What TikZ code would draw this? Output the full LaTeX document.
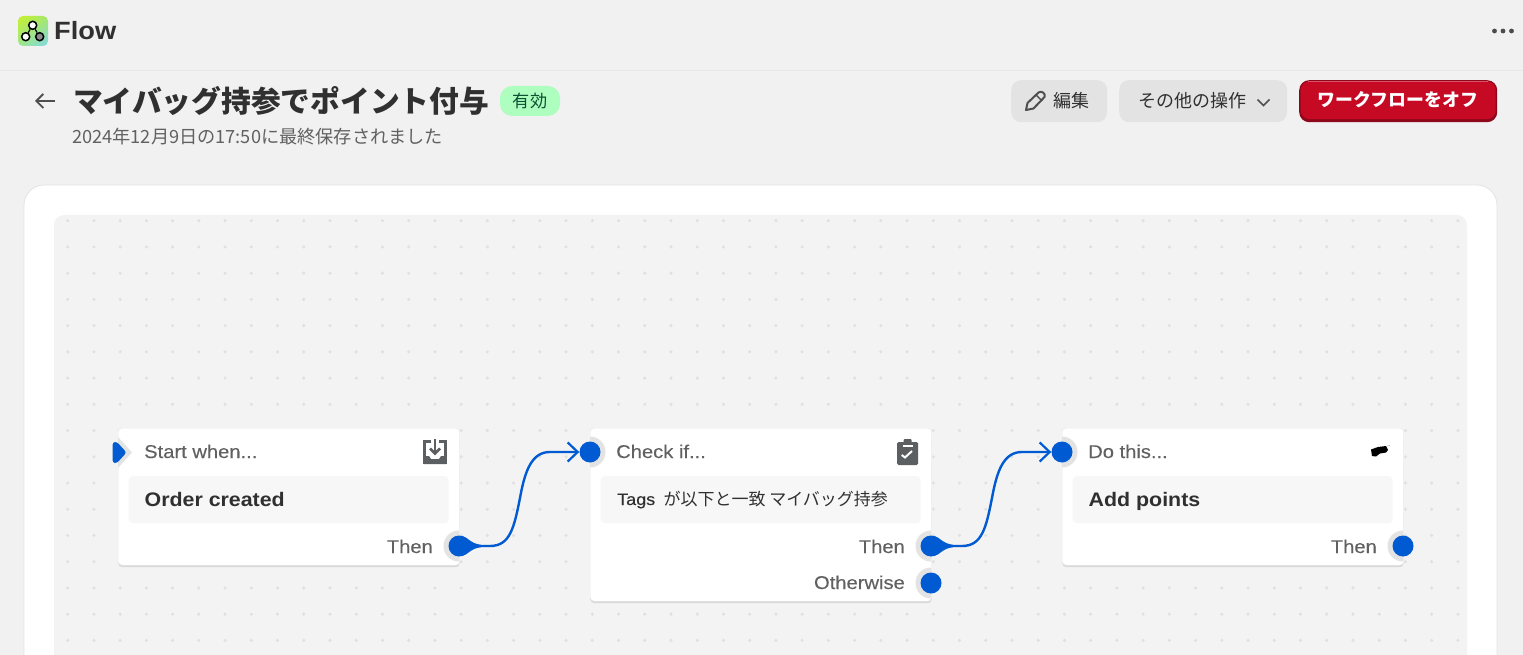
\documentclass[tikz,border=0pt]{standalone}
\usepackage{fontspec}
\setmainfont{Liberation Sans}[FakeStretch=1.09,UprightFeatures={FakeBold=0.2}]
\newfontfamily\jpfont{Noto Sans CJK JP}
\usetikzlibrary{arrows.meta,shadows,shadings}
\newcommand{\fsz}[1]{\fontsize{#1}{#1}\selectfont}
\definecolor{pagegrey}{HTML}{F1F1F1}
\definecolor{panelgrey}{HTML}{F3F3F3}
\definecolor{dotgrey}{HTML}{E0E0E0}
\definecolor{halogrey}{HTML}{E3E3E3}
\definecolor{boxgrey}{HTML}{F7F7F7}
\definecolor{btngrey}{HTML}{E3E3E3}
\definecolor{portblue}{HTML}{005BD3}
\definecolor{inkdark}{HTML}{303030}
\definecolor{inkmid}{HTML}{616161}
\definecolor{icongrey}{HTML}{5C5F62}
\definecolor{offred}{HTML}{C70A24}
\definecolor{badgefill}{HTML}{AEFEBF}
\definecolor{badgeink}{HTML}{0C5132}
\definecolor{logoa}{HTML}{C8F02A}
\definecolor{logob}{HTML}{A4E86A}
\definecolor{logoc}{HTML}{9CE690}
\definecolor{logod}{HTML}{7FD8E8}
\begin{document}
\begin{tikzpicture}[x=1pt,y=-1pt,
  card node/.style={draw=black!8,fill=white,rounded corners=4pt,anchor=north west,inner sep=0pt,minimum width=341.5pt,
    drop shadow={shadow xshift=0pt,shadow yshift=-2pt,opacity=.22}},
  inner box/.style={fill=boxgrey,rounded corners=4pt,anchor=north west,inner sep=0pt,minimum width=320pt,minimum height=47pt},
  port node/.style={circle,fill=portblue,inner sep=0pt,minimum size=21pt},
  head text/.style={anchor=base west,inner sep=0pt,text=inkmid,font=\fsz{18.5}},
  main text/.style={anchor=base west,inner sep=0pt,text=inkdark,font=\fsz{19.6}\bfseries},
  port text/.style={anchor=base east,inner sep=0pt,text=inkmid,font=\fsz{18.5}},
  button node/.style={fill=btngrey,rounded corners=10pt,anchor=north west,inner sep=0pt,minimum height=42pt},
  jp text/.style={inner sep=0pt,text=inkdark,font=\jpfont\fsz{#1}},
  wire/.style={draw=portblue,line width=2.4pt,-{Straight Barb[length=10pt,width=19pt,line width=2.2pt]}},
  logo dot/.style={circle,draw=black,line width=1.5pt,inner sep=0pt,minimum size=8pt}]
  \clip (0,0) rectangle (1523,655);
  \fill[pagegrey] (0,0) rectangle (1523,655);
  \draw[black!9] (0,70.5) -- (1523,70.5);

  % top bar
  \shade[rounded corners=5pt,upper left=logoa,upper right=logob,lower left=logoc,lower right=logod]
    (18,16) rectangle (48,46);
  \node[logo dot,fill=white] (logotop) at (32.7,25.3) {};
  \node[logo dot,fill=white] (logoleft) at (25.7,36.7) {};
  \node[logo dot,fill=black!45] (logoright) at (39.7,36.7) {};
  \path[black,line width=1.2pt]
   (logotop) edge (logoleft)
   (logotop) edge (logoright);
  \node[anchor=base west,inner sep=0pt,text=inkdark,font=\fsz{25}\bfseries] (flow) at (54,40) {Flow};
  \foreach \x in {1494.5,1503,1511.5}
    \fill[black!70] (\x,31) circle (2.4pt);

  % title row
  \draw[inkdark!85,line width=1.8pt,-{Straight Barb[length=7pt,width=14pt,line width=1.8pt]}] (55,101) -- (35,101);
  \node[jp text=30,anchor=base west,font=\jpfont\fsz{29.75}\bfseries] (title) at (73,113) {マイバッグ持参でポイント付与};
  \node[fill=badgefill,rounded corners=12pt,minimum width=60pt,minimum height=30pt,inner sep=0pt] (badge) at (530,101) {};
  \node[jp text=17.2,text=badgeink] at (badge) {有効};
  \node[jp text=18.2,text=inkmid,anchor=base west] (saved) at (72,143.5) {2024年12月9日の17:50に最終保存されました};

  \node[button node,minimum width=96pt] (editbtn) at (1011,80) {};
  \draw[inkdark!85,line width=2pt,line join=round] (1026,110) -- (1027.5,103) -- (1038.5,92.5)
    .. controls (1041,90.5) and (1046,93) .. (1044.5,97) -- (1033.5,108.5) -- cycle;
  \draw[inkdark!85,line width=1.4pt] (1036,95) -- (1042,101);
  \node[jp text=18,anchor=base west] (editlabel) at (1053,107.5) {編集};
  \node[button node,minimum width=168pt] (morebtn) at (1119,80) {};
  \node[jp text=18,anchor=base west] (morelabel) at (1138,107.5) {その他の操作};
  \draw[inkdark!85,line width=1.6pt] (1257.5,99.5) -- (1263.5,105.5) -- (1269.5,99.5);
  \node[button node,fill=offred!72!black,minimum width=198pt] (offedge) at (1299,80) {};
  \node[button node,fill=offred,rounded corners=9pt,minimum width=195pt,minimum height=38pt] (offbtn) at (1300.5,81) {};
  \draw[offred!70!white,line width=1pt] (1308,81.6) -- (1488,81.6);
  \node[jp text=17.9,anchor=base west,text=white,font=\jpfont\fsz{17.9}\bfseries] (offlabel) at (1317,107) {ワークフローをオフ};

  % canvas
  \filldraw[draw=black!11,line width=.8pt,fill=white,rounded corners=20pt] (24,185) rectangle (1497,720);
  \fill[panelgrey,rounded corners=10pt] (54,215) rectangle (1467,720);
  \foreach \i in {0,...,53}
    \foreach \j in {0,...,16}
      \fill[dotgrey] (67.7+26.23*\i,220.7+26.23*\j) circle (1.7pt);

  % cards
  \node[card node,minimum height=137pt] (startcard) at (118,428) {};
  \node[card node,minimum height=173pt] (checkcard) at (590,428) {};
  \node[card node,minimum height=137pt] (addcard) at (1062,428) {};
  \node[inner box] (startbox) at (128.5,476) {};
  \node[inner box] (checkbox) at (600.5,476) {};
  \node[inner box] (addbox) at (1072.5,476) {};

  \node[head text] at (144,458) {Start when...};
  \node[head text] at (616,458) {Check if...};
  \node[head text] at (1088,458) {Do this...};
  \node[main text] at (144.5,506) {Order created};
  \node[anchor=base west,inner sep=0pt,text=inkdark,font=\fsz{16.5}] (tagtext) at (617,505) {Tags\hspace{4.5pt}{\jpfont\fsz{17} が以下と一致 マイバッグ持参}};
  \node[main text] at (1088.5,506) {Add points};
  \node[port text] at (433,553) {Then};
  \node[port text] at (905,553) {Then};
  \node[port text] at (905,589) {Otherwise};
  \node[port text] at (1377,553) {Then};

  % icons
  \draw[icongrey,line width=3pt] (431,441.5) -- (424.5,441.5) -- (424.5,462.5) -- (445.5,462.5) -- (445.5,441.5) -- (439,441.5);
  \fill[icongrey] (424,456) -- (429,456) -- (431,459) -- (439,459) -- (441,456) -- (446,456) -- (446,464) -- (424,464) -- cycle;
  \draw[icongrey,line width=2.5pt] (435,439) -- (435,453);
  \draw[icongrey,line width=2.5pt] (430,448.5) -- (435,453.5) -- (440,448.5);

  \fill[icongrey,rounded corners=1.5pt] (897,442) rectangle (918,465);
  \fill[icongrey,rounded corners=1pt] (903.5,439) rectangle (911.5,444);
  \fill[white] (903,445) rectangle (913,447);
  \draw[white,line width=2pt] (901.7,455) -- (905,457.5) -- (912,451);

  \fill[black] (1371,449.5) -- (1378,447) -- (1386,446) -- (1388,450) -- (1386,452.5) -- (1380,453.5)
    -- (1376,456.5) -- (1372,456) -- cycle;
  \draw[black!40] (1387,446) -- (1390,445.5);

  % halos, clipped to the card side
  \foreach \x/\y in {459/546,931/546,931/583,1403/546}
    \fill[halogrey] (\x,\y-15.5) arc[start angle=90,delta angle=180,radius=15.5pt] -- cycle;
  \foreach \x/\y in {590/452,1062/452}
    \fill[halogrey] (\x,\y-15.5) arc[start angle=90,delta angle=-180,radius=15.5pt] -- cycle;
  \fill[halogrey] (118,437) -- (132,452.5) -- (118,468) -- cycle;

  % ports
  \fill[portblue,rounded corners=2.5pt] (112.7,442) -- (117,442) -- (126.5,452.5) -- (117,463) -- (112.7,463) -- cycle;
  \node[port node] (startout) at (459,546) {};
  \node[port node] (checkin) at (590,452) {};
  \node[port node] (checkout) at (931,546) {};
  \node[port node] (checkother) at (931,583) {};
  \node[port node] (addin) at (1062,452) {};
  \node[port node] (addout) at (1403,546) {};

  \foreach \p in {startout,checkout}{
    \begin{scope}[shift={(\p.center)}]
      \fill[portblue] (3,-10) .. controls (9,-9) and (11,-2.5) .. (22,-1.2) -- (22,1.2) .. controls (11,2.5) and (9,9) .. (3,10) -- cycle;
    \end{scope}
  }
  \draw[wire] (startout.center) -- ++(31,0) .. controls +(20,0) and +(-6,30) .. ++(30,-48)
    .. controls +(5,-28) and +(-18,0) .. ++(30,-46) -- (checkin.west);
  \draw[wire] (checkout.center) -- ++(31,0) .. controls +(20,0) and +(-6,30) .. ++(30,-48)
    .. controls +(5,-28) and +(-18,0) .. ++(30,-46) -- (addin.west);
\end{tikzpicture}
\end{document}
